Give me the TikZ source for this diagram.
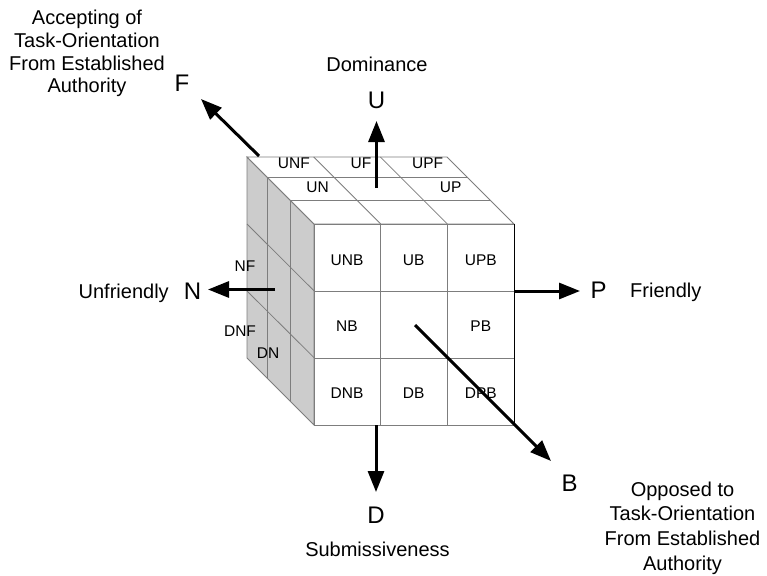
\documentclass[tikz,border=0pt]{standalone}
\usepackage{fontspec}
\setmainfont{Liberation Sans}
\usetikzlibrary{arrows.meta}
\definecolor{linegray}{RGB}{125,125,125}
\definecolor{sidegray}{RGB}{204,204,204}
\tikzset{
  cubeline/.style={draw=linegray, line width=0.8pt},
  axisarrow/.style={line width=3pt, -{Triangle[length=21pt,width=16pt]}},
  celltext/.style={font=\fontsize{15.5}{18}\selectfont, anchor=base, inner sep=0pt},
  bigletter/.style={font=\fontsize{24}{28}\selectfont, anchor=base, inner sep=0pt},
  desctext/.style={font=\fontsize{20}{24}\selectfont, anchor=base, inner sep=0pt},
}
\begin{document}
\begin{tikzpicture}[x=1pt,y=-1pt]
\useasboundingbox (0,0) rectangle (767,575);

% ---- left (shaded) face ----
\fill[sidegray] (247,157) -- (314,224) -- (314,425) -- (247,358) -- cycle;
\foreach \d in {20,43}{
  \draw[cubeline] (247+\d,157+\d) -- (247+\d,358+\d);
}
\foreach \k in {1,2}{
  \draw[cubeline] (247,157+67*\k) -- (314,224+66.8*\k);
}
\draw[cubeline] (247,157) -- (314,224) -- (314,425) -- (247,358) -- cycle;

% ---- top face ----
\fill[white] (247,157) -- (447,157) -- (514,224) -- (314,224) -- cycle;
\foreach \d in {20,43}{
  \draw[cubeline] (247+\d,157+\d) -- (447+\d,157+\d);
}
\foreach \j in {1,2}{
  \draw[cubeline] (247+66.7*\j,157) -- (314+66.7*\j,224);
}
\draw[cubeline] (247,157) -- (447,157) -- (514,224) -- (314,224) -- cycle;

% ---- front face ----
\fill[white] (314,224) rectangle (514,425);
\foreach \j in {1,2}{
  \draw[cubeline] (314+66.7*\j,224) -- (314+66.7*\j,425);
  \draw[cubeline] (314,224+67*\j) -- (514,224+67*\j);
}
\draw[cubeline] (514,224) -- (314,224) -- (314,425) -- (514,425);
\draw[black, line width=0.9pt] (514,224) -- (514,425);

% ---- cell labels ----
\node[celltext] (unf) at (293.8,168.3) {UNF};
\node[celltext] (uf)  at (361,168.3) {UF};
\node[celltext] (upf) at (427.7,168.3) {UPF};
\node[celltext] (un)  at (317.5,192.7) {UN};
\node[celltext] (up)  at (450.7,192.7) {UP};
\node[celltext] (unb) at (347,265) {UNB};
\node[celltext] (ub)  at (413.7,265) {UB};
\node[celltext] (upb) at (480.8,265) {UPB};
\node[celltext] (nb)  at (347,331.7) {NB};
\node[celltext] (pb)  at (480.8,331.7) {PB};
\node[celltext] (dnb) at (347,398.3) {DNB};
\node[celltext] (db)  at (413.7,398.3) {DB};
\node[celltext] (dpb) at (480.8,398.3) {DPB};
\node[celltext] (nf)  at (245,271.7) {NF};
\node[celltext] (dnf) at (240,336.7) {DNF};
\node[celltext] (dn)  at (268,358.3) {DN};

% ---- axis arrows ----
\coordinate (Us) at (376.5,188);  \coordinate (Ut) at (376.5,121);
\coordinate (Ds) at (376,425);    \coordinate (Dt) at (376,492);
\coordinate (Ps) at (514,291);    \coordinate (Pt) at (580,291);
\coordinate (Ns) at (275,289.5);  \coordinate (Nt) at (208,289.5);
\coordinate (Fs) at (259,156);    \coordinate (Ft) at (201,99);
\coordinate (Bs) at (415,325);    \coordinate (Bt) at (551,461);
\draw[axisarrow] (Us) -- (Ut);
\draw[axisarrow] (Ds) -- (Dt);
\draw[axisarrow] (Ps) -- (Pt);
\draw[axisarrow] (Ns) -- (Nt);
\draw[axisarrow] (Fs) -- (Ft);
\draw[axisarrow] (Bs) -- (Bt);

% ---- axis letters and descriptions ----
\node[desctext] (dom) at (377,72) {Dominance};
\node[bigletter] (U) at (376.5,108.3) {U};
\node[bigletter] (P) at (598.7,298.3) {P};
\node[desctext] (fr) at (665.8,297.7) {Friendly};
\node[bigletter] (N) at (192.5,299.3) {N};
\node[desctext] (unfr) at (123.7,298.3) {Unfriendly};
\node[bigletter] (D) at (376,523.3) {D};
\node[desctext] (sub) at (377.5,556.5) {Submissiveness};
\node[bigletter] (B) at (569.5,491.7) {B};
\node[bigletter] (F) at (182,92) {F};

\node[desctext] (acc1) at (87,25) {Accepting of};
\node[desctext] (acc2) at (87,47.7) {Task-Orientation};
\node[desctext] (acc3) at (87,70.3) {From Established};
\node[desctext] (acc4) at (87,93) {Authority};

\node[desctext] (opp1) at (682.5,496) {Opposed to};
\node[desctext] (opp2) at (682.5,520.7) {Task-Orientation};
\node[desctext] (opp3) at (682.5,545.3) {From Established};
\node[desctext] (opp4) at (682.5,570) {Authority};
\end{tikzpicture}
\end{document}
